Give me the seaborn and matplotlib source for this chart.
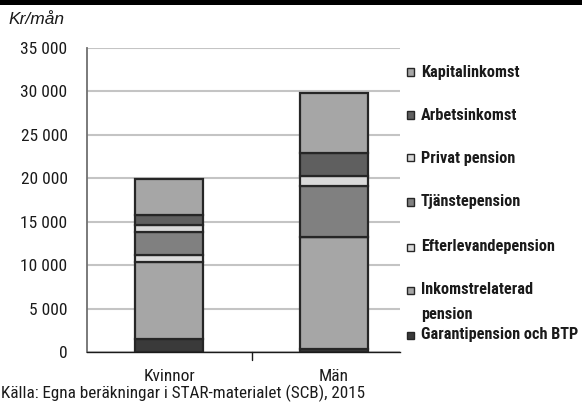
import matplotlib
matplotlib.use("Agg")
import matplotlib.pyplot as plt
from matplotlib.patches import Rectangle
import pandas as pd
import seaborn as sns

# Månadsinkomst per komponent (kr/mån), uppifrån och ned i stapeln
komponenter = [
    "Kapitalinkomst",
    "Arbetsinkomst",
    "Privat pension",
    "Tjänstepension",
    "Efterlevandepension",
    "Inkomstrelaterad\npension",
    "Garantipension och BTP",
]
grupper = ["Kvinnor", "Män"]
kvinnor = [4150, 1150, 770, 2720, 800, 8830, 1500]
man = [6950, 2650, 1150, 5830, 50, 12850, 350]
farger = ["#a6a6a6", "#5f5f5f", "#d9d9d9", "#808080", "#dcdcdc", "#a6a6a6", "#3a3a3a"]
yticks = [0, 5000, 10000, 15000, 20000, 25000, 30000, 35000]
ytick_labels = ["0", "5 000", "10 000", "15 000", "20 000", "25 000", "30 000", "35 000"]

rows = []
for grupp, varden in zip(grupper, [kvinnor, man]):
    for komp, v in zip(komponenter, varden):
        rows.append({"grupp": grupp, "komponent": komp, "kr": v})
df = pd.DataFrame(rows)

sns.set_style("white")
plt.rcParams["font.family"] = ["Roboto Condensed", "DejaVu Sans"]

W, H = 582, 403
fig = plt.figure(figsize=(W / 100, H / 100), dpi=100)
ax = fig.add_axes([87 / W, 1 - 352 / H, (400 - 87) / W, (352 - 48) / H])

sns.histplot(
    data=df, x="grupp", hue="komponent", weights="kr",
    hue_order=komponenter, palette=dict(zip(komponenter, farger)),
    multiple="stack", discrete=True, shrink=0.41, alpha=1,
    edgecolor="#262626", linewidth=1.6, legend=False, ax=ax, zorder=3,
)

ax.set_xlim(-0.497, 1.4)
ax.set_ylim(0, 35000)
ax.set_yticks(yticks)
ax.set_yticklabels(ytick_labels, fontsize=12.5, color="#1a1a1a")
ax.set_xticks([0, 1])
ax.set_xticklabels(grupper, fontsize=12.5, color="#1a1a1a")
ax.tick_params(axis="x", length=0, pad=12)
ax.tick_params(axis="y", length=5, width=1.2, color="#606060", pad=9, direction="out")
# delningsstreck mellan grupperna
ax.plot([0.5, 0.5], [0, -0.025], transform=ax.get_xaxis_transform(),
        color="#1a1a1a", lw=1, clip_on=False)
ax.set_xlabel("")
ax.set_ylabel("")
ax.yaxis.grid(True, color="#c4c4c4", lw=1.5, zorder=0)
ax.set_axisbelow(True)
for s in ["top", "right"]:
    ax.spines[s].set_visible(False)
ax.spines["left"].set_color("#707070")
ax.spines["left"].set_linewidth(1.3)
ax.spines["bottom"].set_color("#1a1a1a")
ax.spines["bottom"].set_linewidth(1.0)

# Teckenförklaring
leg_y = [72, 115, 158, 202, 247, 290, 335]
for komp, farg, y in zip(komponenter, farger, leg_y):
    fig.patches.append(Rectangle((407 / W, 1 - (y + 3.5) / H), 7 / W, 7 / H,
                                 transform=fig.transFigure, facecolor=farg,
                                 edgecolor="#262626", lw=1.0))
    fig.text(421 / W, 1 - (y - 7.5) / H, komp, fontsize=11.7, fontweight="bold",
             va="top", ha="left", color="#1a1a1a", linespacing=1.75)

fig.text(8 / W, 1 - 20 / H, "Kr/mån", fontsize=12.5, style="italic",
         family=["Liberation Sans", "DejaVu Sans"], va="center", ha="left",
         color="#1a1a1a")
fig.text(1 / W, 1 - 393 / H, "Källa: Egna beräkningar i STAR-materialet (SCB), 2015",
         fontsize=12.3, va="center", ha="left", color="#1a1a1a")

# svart list överst
fig.patches.append(Rectangle((0, 1 - 5 / H), 1, 5 / H, transform=fig.transFigure,
                             facecolor="black", edgecolor="none"))

fig.savefig("out.png", dpi=100)
